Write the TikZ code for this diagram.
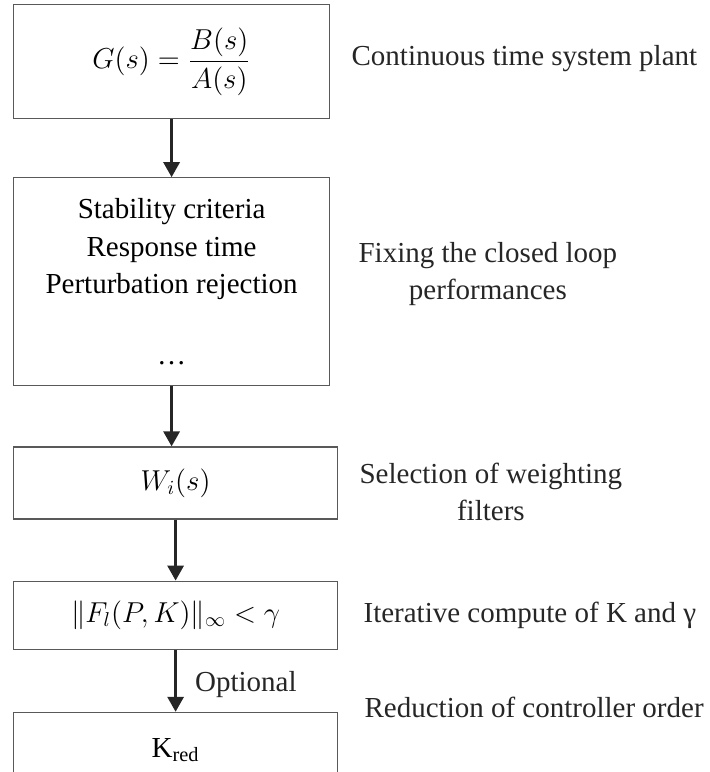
\documentclass[tikz,border=0pt]{standalone}
\usepackage{fontspec}
\setmainfont{Liberation Serif}
\usepackage{amsmath}
\usetikzlibrary{arrows.meta, positioning}
\definecolor{frame}{HTML}{595959}
\definecolor{ink}{HTML}{262626}

\begin{document}
\begin{tikzpicture}[
    font=\fontsize{14.5pt}{18.75pt}\selectfont,
    box/.style={draw=frame, line width=0.6pt, inner sep=0pt, align=center,
                minimum width=158pt},
    wbox/.style={box, minimum width=162pt},
    note/.style={inner sep=0pt, align=center, text=ink},
    ar/.style={-{Triangle[length=7.5pt, width=8pt]}, ink, line width=1.5pt}
  ]
    \path[use as bounding box, clip] (0,0) rectangle (354.5pt,-386pt);
    % design chain
    \node[box, minimum height=57pt, anchor=north west] (plant) at (6.5pt,-2pt)
      {$\displaystyle G(s)=\frac{B(s)}{A(s)}$};
    \node[box, minimum height=104pt, below=29pt of plant.south west, anchor=north west] (perf)
      {Stability criteria\\Response time\\Perturbation rejection\\[16.75pt]\dots};
    \node[wbox, minimum height=36pt, below=30pt of perf.south west, anchor=north west] (filt)
      {$W_i(s)$};
    \node[wbox, minimum height=34pt, below=30.5pt of filt.south west, anchor=north west] (hinf)
      {$\|F_l(P,K)\|_\infty<\gamma$};
    \node[wbox, minimum height=38pt, below=31pt of hinf.south west, anchor=north west] (kred)
      {K\textsubscript{red}};
    \draw[ar] (plant)--(perf);
    \draw[ar] (perf.south)--(perf.south |- filt.north);
    \draw[ar] (filt)--(hinf);
    \draw[ar] (hinf)--(kred) node[note, midway, right=9pt, yshift=-2pt] (opt) {Optional};
    % comments on the right
    \node[note, right=10.5pt of plant, yshift=1.5pt] (plantlbl) {Continuous time system plant};
    \node[note, right=14pt of perf, yshift=4pt] (perflbl) {Fixing the closed loop\\performances};
    \node[note, right=10.5pt of filt, yshift=-4.5pt] (filtlbl) {Selection of weighting\\filters};
    \node[note, right=12.5pt of hinf] (hinflbl) {Iterative compute of K and γ};
    \node[note, right=13pt of kred.north east, yshift=2pt] (kredlbl) {Reduction of controller order};
  \end{tikzpicture}
\end{document}
